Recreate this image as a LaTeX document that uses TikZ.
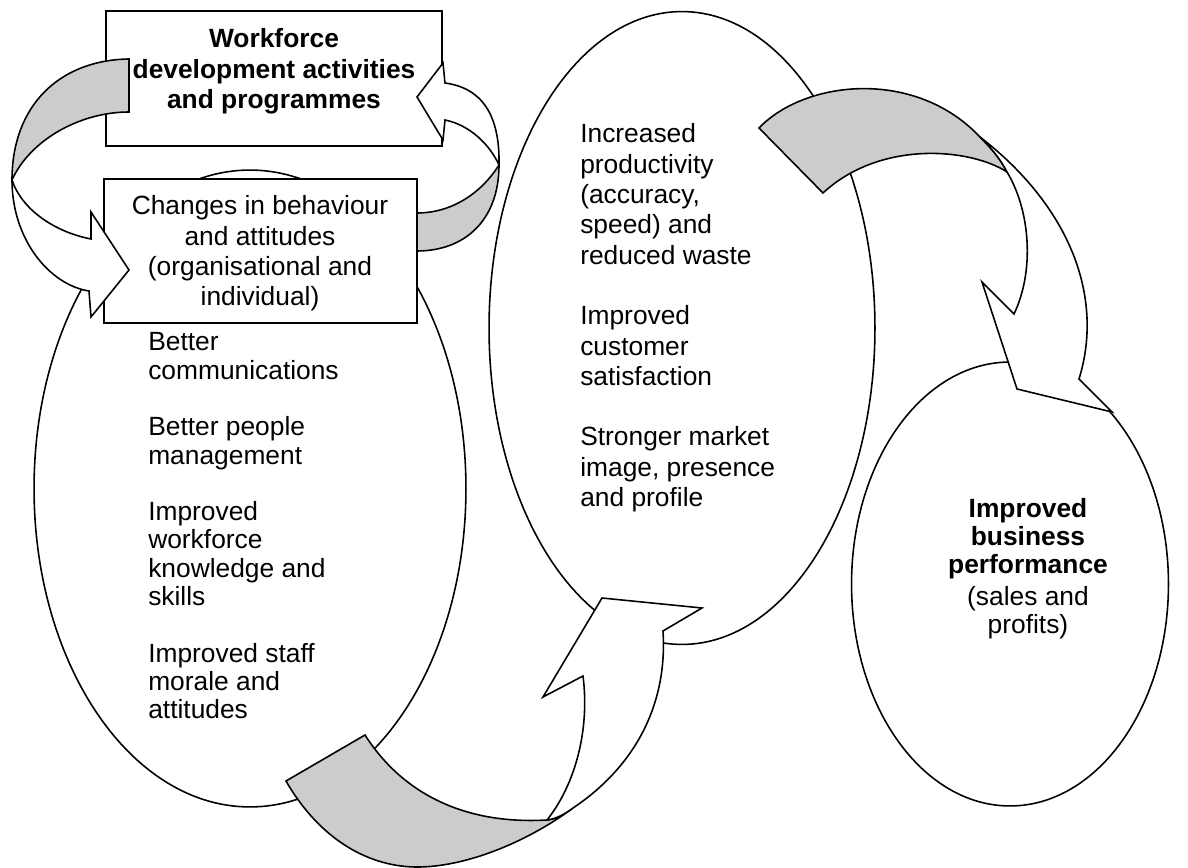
\documentclass[tikz,border=0pt]{standalone}
\usepackage{fontspec}
\setmainfont{Liberation Sans}
\usetikzlibrary{shapes.geometric}
\tikzset{%
  every outcome/.style={
    ellipse,
    draw,
    fill=white,
    inner sep=0pt
  },
  stage box/.style={
    rectangle,
    draw,
    fill=white,
    inner sep=0pt
  },
  stage text/.style={
    align=center,
    anchor=north,
    inner sep=0pt,
    font=\fontsize{15pt}{17.25pt}\selectfont
  },
  outcome text/.style={
    align=left,
    anchor=north west,
    inner sep=0pt,
    font=\fontsize{15pt}{16.1pt}\selectfont
  },
  arrow back/.style={
    draw,
    fill=black!20
  },
  arrow front/.style={
    draw,
    fill=white
  },
}

\begin{document}
\begin{tikzpicture}[x=0.02cm, y=-0.02cm, line width=0.9pt]
\useasboundingbox (0,0) rectangle (1188,868);
    \foreach \name/\cx/\cy/\w/\h in {staff/250/488.5/8.64/12.74, results/682/328/7.72/12.66, business/1010/584/6.34/8.88}
        \node[every outcome, minimum width=\w cm, minimum height=\h cm] (\name) at (\cx,\cy) {};

   \node[stage box, minimum width=6.72cm, minimum height=2.7cm] (programmes) at (274,78.5) {};
   \node[stage box, minimum width=6.26cm, minimum height=2.88cm] (changes) at (260.5,251) {};

   \node[stage text] (programmes text) at (274,28) {\textbf{Workforce}\\\textbf{development activities}\\\textbf{and programmes}};
   \node[stage text] (changes text) at (260,195) {Changes in behaviour\\and attitudes\\(organisational and\\individual)};

   \node[outcome text] (staff text) at (147.5,332) {Better\\communications\\[16.1pt]Better people\\management\\[16.1pt]Improved\\workforce\\knowledge and\\skills\\[16.1pt]Improved staff\\morale and\\attitudes};
   \node[outcome text, font=\fontsize{15pt}{17.25pt}\selectfont] (results text) at (579.5,123) {Increased\\productivity\\(accuracy,\\speed) and\\reduced waste\\[17.25pt]Improved\\customer\\satisfaction\\[17.25pt]Stronger market\\image, presence\\and profile};
   \node[stage text, font=\fontsize{15pt}{15.7pt}\selectfont] (business text) at (1028,498) {\textbf{Improved}\\\textbf{business}\\\textbf{performance}\\[3pt](sales and\\profits)};

   % left loop back to the changes box
   \draw[arrow back] (129,59) .. controls (60,60) and (12,105) .. (12,180) .. controls (30,140) and (80,112) .. (129,112) -- cycle;
   \draw[arrow front] (12,180) .. controls (12,240) and (50,285) .. (89,291) -- (91,317) -- (129,270) -- (91,212) -- (91,239) .. controls (55,232) and (22,210) .. (12,180) -- cycle;

   % right loop up to the programmes box
   \draw[arrow back] (417,213) -- (417,251) .. controls (465,251) and (499,220) .. (499,165) .. controls (480,195) and (450,213) .. (417,213) -- cycle;
   \draw[arrow front] (499,165) .. controls (500,115) and (482,88) .. (445,83) -- (443,63) -- (417,97) -- (443,140) -- (445,120) .. controls (470,125) and (490,145) .. (499,165) -- cycle;

   % bottom sweep into the results
   \draw[arrow back] (286,781) -- (365,735) .. controls (400,790) and (460,825) .. (547,820) .. controls (556,819) and (565,814) .. (573,808) .. controls (530,840) and (470,866) .. (420,867) .. controls (370,868) and (320,840) .. (286,781) -- cycle;
   \draw[arrow front] (573,808) .. controls (630,770) and (668,710) .. (663,631) -- (702,608) -- (602,598) -- (543,697) -- (583,676) .. controls (590,730) and (575,785) .. (547,820) .. controls (556,819) and (565,814) .. (573,808) -- cycle;

   % top sweep down to business performance
   \draw[arrow back] (759,128) .. controls (805,80) and (915,68) .. (980,137) .. controls (990,147) and (1000,158) .. (1007,172) .. controls (970,148) and (880,140) .. (823,193) -- cycle;
   \draw[arrow front] (980,137) .. controls (1068,205) and (1105,295) .. (1079,379) -- (1112,412) -- (1017,389) -- (982,282) -- (1014,314) .. controls (1035,270) and (1030,210) .. (1007,172) .. controls (1000,158) and (990,147) .. (980,137) -- cycle;
\end{tikzpicture}
\end{document}
